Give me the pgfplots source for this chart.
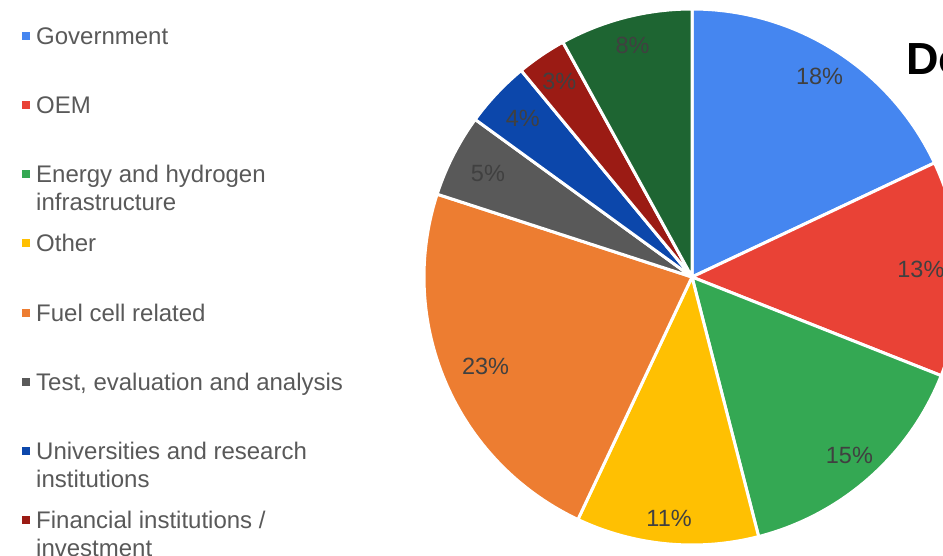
\documentclass[border=0pt]{standalone}
\usepackage{fontspec}
\setmainfont{Liberation Sans}
\usepackage{pgfplots}
\usepackage{pgfplotstable}
\pgfplotsset{compat=1.18}

\definecolor{cGov}{HTML}{4586F0}
\definecolor{cOEM}{HTML}{E94236}
\definecolor{cEnergy}{HTML}{34A853}
\definecolor{cOther}{HTML}{FFC002}
\definecolor{cFuel}{HTML}{ED7D31}
\definecolor{cTest}{HTML}{595959}
\definecolor{cUni}{HTML}{0C47AB}
\definecolor{cFin}{HTML}{9B1B14}
\definecolor{cDark}{HTML}{1E6532}
\definecolor{legtext}{HTML}{595959}
\definecolor{pcttext}{HTML}{404040}

% value (percent), slice colour, label distance from centre
\pgfplotstableread{
value color lr
18 cGov 238
13 cOEM 229
15 cEnergy 238
11 cOther 243
23 cFuel 225
5 cTest 229
4 cUni 232
3 cFin 236
8 cDark 239
}\piedata
\pgfplotstablecreatecol[expr accum={\pgfmathaccuma+\thisrow{value}}{0}]{cum}{\piedata}

\newcommand\legfont{\fontsize{24}{28}\selectfont}
\newcommand\pctfont{\fontsize{23.5}{27}\selectfont}

\begin{document}
\begin{tikzpicture}[x=1pt,y=1pt]
\useasboundingbox (0,0) rectangle (943,556);
\clip (0,0) rectangle (943,556);
\tikzset{pct/.style={font=\pctfont, text=pcttext, anchor=center, inner sep=0pt}}

\begin{axis}[at={(692,279)}, anchor=origin, x=1pt, y=1pt,
  xmin=-270, xmax=270, ymin=-270, ymax=270, hide axis, clip=false]
\pgfplotsinvokeforeach{0,...,8}{
  \pgfplotstablegetelem{#1}{value}\of\piedata \let\pv\pgfplotsretval
  \pgfplotstablegetelem{#1}{cum}\of\piedata \let\pc\pgfplotsretval
  \pgfplotstablegetelem{#1}{color}\of\piedata \let\pcol\pgfplotsretval
  \pgfmathsetmacro\pa{3.6*(\pc-\pv)}
  \pgfmathsetmacro\pb{3.6*\pc}
  \edef\doplot{\noexpand\addplot[fill=\pcol, draw=white, line width=3pt, line join=round, domain=\pa:\pb, samples=90]
    ({268*sin(x)},{268*cos(x)}) -- (axis cs:0,0) -- cycle;}
  \doplot
}
\pgfplotsinvokeforeach{0,...,8}{
  \pgfplotstablegetelem{#1}{value}\of\piedata \let\pv\pgfplotsretval
  \pgfplotstablegetelem{#1}{cum}\of\piedata \let\pc\pgfplotsretval
  \pgfplotstablegetelem{#1}{lr}\of\piedata \let\plr\pgfplotsretval
  \pgfmathsetmacro\pmid{3.6*(\pc-\pv/2)}
  \pgfmathsetmacro\lx{\plr*sin(\pmid)}
  \pgfmathsetmacro\ly{\plr*cos(\pmid)}
  \pgfmathtruncatemacro\pint{\pv}
  \edef\dolabel{\noexpand\node[pct] at (axis cs:\lx,\ly) {\pint\noexpand\%};}
  \dolabel
}
\end{axis}

% title (partly cut by the right edge)
\node[anchor=base west, inner sep=0pt, font=\bfseries\fontsize{45}{50}\selectfont] at (906,481) {Do};

% legend
\begin{scope}[every node/.style={anchor=base west, inner sep=0pt, font=\legfont, text=legtext}]
\fill[cGov]    (22,556-40) rectangle ++(8,8);
\node at (36,556-45) {Government};
\fill[cOEM]    (22,556-109) rectangle ++(8,8);
\node at (36,556-114) {OEM};
\fill[cEnergy] (22,556-178) rectangle ++(8,8);
\node at (36,556-183) {Energy and hydrogen};
\node at (36,556-211) {infrastructure};
\fill[cOther]  (22,556-247) rectangle ++(8,8);
\node at (36,556-252) {Other};
\fill[cFuel]   (22,556-317) rectangle ++(8,8);
\node at (36,556-322) {Fuel cell related};
\fill[cTest]   (22,556-386) rectangle ++(8,8);
\node at (36,556-391) {Test, evaluation and analysis};
\fill[cUni]    (22,556-455) rectangle ++(8,8);
\node at (36,556-460) {Universities and research};
\node at (36,556-488) {institutions};
\fill[cFin]    (22,556-524) rectangle ++(8,8);
\node at (36,556-529) {Financial institutions /};
\node at (36,556-557) {investment};
\end{scope}
\end{tikzpicture}
\end{document}
